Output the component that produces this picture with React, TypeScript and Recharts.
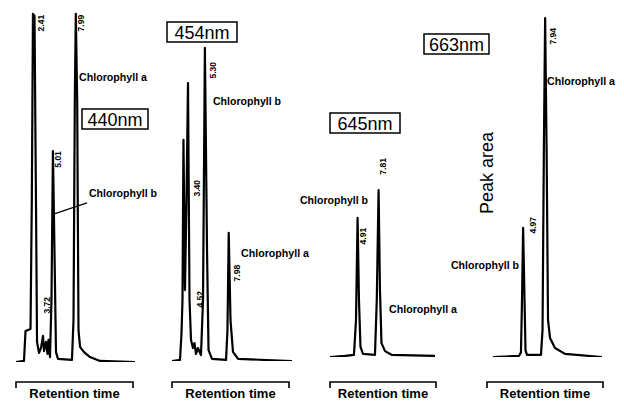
import React from 'react';
import { LineChart, Line, XAxis, YAxis, ReferenceDot, ReferenceLine } from 'recharts';

// Retention time (min) and detector response (% of full scale) per wavelength
const time440 = [0.2, 1.24, 1.44, 2.09, 2.26, 2.41, 2.61, 2.81, 2.94, 3.2, 3.46, 3.72, 3.85, 4.11, 4.3, 4.43, 4.63, 4.82, 5.01, 5.21, 5.41, 5.67, 7.49, 7.69, 7.86, 7.99, 8.17, 8.34, 8.54, 9.06, 9.84, 11.14, 15.7];
const signal440 = [0, 0.3, 8.8, 9.4, 46.0, 98.9, 98.3, 43.2, 5.7, 2.6, 4.0, 7.4, 3.1, 5.7, 2.3, 6.3, 1.4, 17.6, 59.9, 31.8, 2.8, 0.9, 0.6, 11.9, 74.4, 98.9, 74.4, 9.1, 4.3, 2.8, 1.4, 0.3, 0];
const peaks440 = [2.41, 3.72, 5.01, 7.99];

const time454 = [1.6, 2.5, 2.67, 2.78, 2.89, 3.06, 3.23, 3.4, 3.57, 3.74, 3.96, 4.13, 4.3, 4.52, 4.86, 5.09, 5.3, 5.54, 5.71, 6.1, 7.68, 7.84, 7.98, 8.18, 8.46, 9.03, 15.1];
const signal454 = [0, 0.3, 8.0, 17.4, 63.0, 20.2, 45.9, 79.2, 17.4, 6.0, 3.7, 5.1, 2.0, 3.7, 1.7, 17.4, 89.2, 31.6, 3.1, 0.6, 0.3, 8.8, 36.5, 11.7, 2.6, 0.6, 0];
const peaks454 = [3.4, 4.52, 5.3, 7.98];

const time645 = [1.1, 3.17, 4.41, 4.69, 4.91, 5.1, 5.31, 5.66, 7.31, 7.56, 7.81, 8.0, 8.21, 8.7, 9.66, 15.6];
const signal645 = [0, 0.3, 0.6, 10.7, 40.1, 16.4, 2.9, 0.9, 0.6, 16.4, 48.1, 19.3, 4.0, 1.7, 0.6, 0.3];
const peaks645 = [4.91, 7.81];

const time663 = [0.9, 4.41, 4.68, 4.82, 4.97, 5.16, 5.29, 5.49, 7.38, 7.59, 7.77, 7.94, 8.14, 8.33, 8.6, 9.27, 10.62, 15.61];
const signal663 = [0, 0.3, 1.4, 16.4, 37.2, 16.4, 2.0, 0.6, 0.6, 7.8, 59.7, 97.7, 59.7, 10.7, 5.5, 2.6, 0.9, 0];
const peaks663 = [4.97, 7.94];

const wavelengths = ['440nm', '454nm', '645nm', '663nm'];
const chlA = 'Chlorophyll a';
const chlB = 'Chlorophyll b';
const xTitle = 'Retention time';
const yTitle = 'Peak area';

const SANS = '"Liberation Sans", Arial, sans-serif';

// rotated retention-time tag printed beside a peak (dx/dy in px from the apex)
const peakTag = (text: string, dx: number, dy: number) => (props: any) => {
  const x = props.cx + dx;
  const y = props.cy + dy;
  return (
    <text x={x} y={y} transform={`rotate(-90 ${x} ${y})`} textAnchor="end"
      fontFamily={SANS} fontWeight="bold" fontSize={8.5} fill="#000">
      {text}
    </text>
  );
};

interface PanelProps {
  time: number[];
  signal: number[];
  peaks: number[];
  offsets: [number, number][];
  domain: [number, number];
  left: number;
  top: number;
  width: number;
  height: number;
  children?: React.ReactNode;
}

const Panel = ({ time, signal, peaks, offsets, domain, left, top, width, height, children }: PanelProps) => {
  const rows = time.map((t, i) => ({ t, v: signal[i] }));
  return (
    <div style={{ position: 'absolute', left, top }}>
      <LineChart width={width} height={height} data={rows} margin={{ top: 0, right: 0, bottom: 0, left: 0 }}
        style={{ overflow: 'visible' }}>
        <XAxis dataKey="t" type="number" domain={domain} hide allowDataOverflow />
        <YAxis type="number" domain={[0, 100]} hide allowDataOverflow />
        <Line type="linear" dataKey="v" stroke="#000" strokeWidth={2.2} strokeLinejoin="round"
          dot={false} activeDot={false} isAnimationActive={false} />
        {peaks.map((p, i) => (
          <ReferenceDot key={p} x={p} y={signal[time.indexOf(p)]} r={0} ifOverflow="visible"
            shape={peakTag(p.toFixed(2), offsets[i][0], offsets[i][1])} />
        ))}
        {children}
      </LineChart>
    </div>
  );
};

const WaveBox = ({ x, y, w, label }: { x: number; y: number; w: number; label: string }) => (
  <g>
    <rect x={x} y={y} width={w} height={20} fill="#fff" stroke="#000" strokeWidth={1.5} />
    <text x={x + w / 2} y={y + 16.5} textAnchor="middle" fontFamily={SANS} fontSize={18} fill="#000">{label}</text>
  </g>
);

const Bracket = ({ x1, x2 }: { x1: number; x2: number }) => (
  <g>
    <path d={`M${x1} 388 V382 H${x2} V388`} fill="none" stroke="#000" strokeWidth={1.6} />
    <text x={(x1 + x2) / 2} y={398} textAnchor="middle" fontFamily={SANS} fontWeight="bold" fontSize={13}
      fill="#000">{xTitle}</text>
  </g>
);

const Name = ({ x, y, text }: { x: number; y: number; text: string }) => (
  <text x={x} y={y} fontFamily={SANS} fontSize={11.5} fontWeight="bold" fill="#000"
    textLength={68} lengthAdjust="spacingAndGlyphs">{text}</text>
);

export default function App() {
  return (
    <div style={{ position: 'absolute', left: 0, top: 0, width: 624, height: 401, background: '#fff', overflow: 'hidden' }}>
      <Panel time={time440} signal={signal440} peaks={peaks440}
        offsets={[[11, 1], [7, -39], [8, 0], [8, 1]]}
        domain={[0.2, 15.7]} left={16} top={10} width={119} height={352}>
        <ReferenceLine segment={[{ x: 5.08, y: 42 }, { x: 9.45, y: 45.2 }]} stroke="#000" strokeWidth={1.2}
          ifOverflow="visible" />
      </Panel>
      <Panel time={time454} signal={signal454} peaks={peaks454}
        offsets={[[12, 97], [5, -57], [11, 14], [11, 32]]}
        domain={[1.6, 15.1]} left={172} top={10} width={120} height={351} />
      <Panel time={time645} signal={signal645} peaks={peaks645}
        offsets={[[8, 10], [7, -32]]}
        domain={[1.1, 15.6]} left={330} top={10} width={105} height={347} />
      <Panel time={time663} signal={signal663} peaks={peaks663}
        offsets={[[13, -11], [11, 10]]}
        domain={[0.5, 15.75]} left={490} top={10} width={113} height={347} />

      <svg width={624} height={401} style={{ position: 'absolute', left: 0, top: 0, pointerEvents: 'none' }}>
        <WaveBox x={82} y={109} w={66} label={wavelengths[0]} />
        <WaveBox x={167} y={22} w={70} label={wavelengths[1]} />
        <WaveBox x={330} y={113} w={70} label={wavelengths[2]} />
        <WaveBox x={424} y={34} w={65} label={wavelengths[3]} />

        <Name x={79} y={81} text={chlA} />
        <Name x={89} y={197} text={chlB} />
        <Name x={213} y={105} text={chlB} />
        <Name x={241} y={257} text={chlA} />
        <Name x={300} y={204} text={chlB} />
        <Name x={389} y={313} text={chlA} />
        <Name x={547} y={85} text={chlA} />
        <Name x={451} y={269} text={chlB} />

        <Bracket x1={16} x2={133} />
        <Bracket x1={172} x2={289} />
        <Bracket x1={330} x2={436} />
        <Bracket x1={487} x2={603} />

        <text x={0} y={0} transform="translate(493 173) rotate(-90)" textAnchor="middle" fontFamily={SANS}
          fontSize={18} fill="#000">{yTitle}</text>
      </svg>
    </div>
  );
}
